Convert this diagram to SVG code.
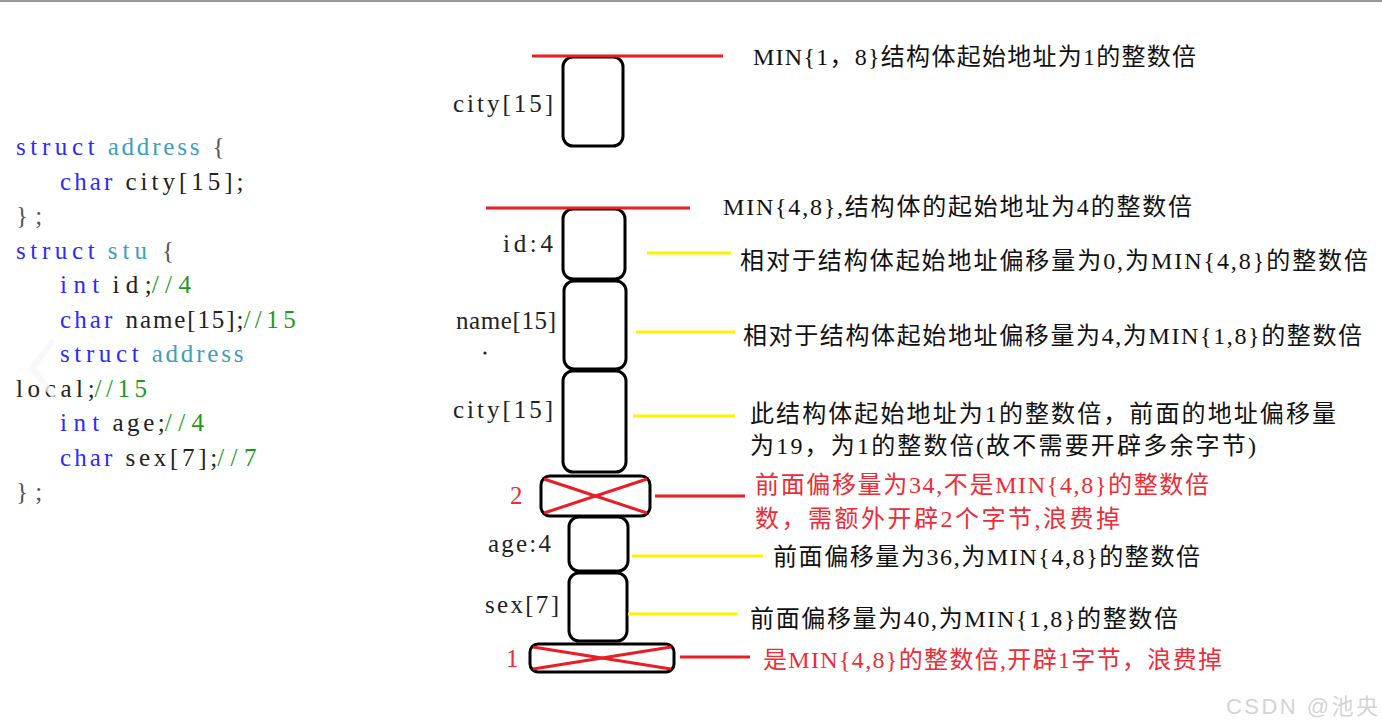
<svg xmlns="http://www.w3.org/2000/svg" width="1382" height="728" viewBox="0 0 1382 728">
<style>
.code{font-family:"Liberation Serif","Noto Sans CJK SC",serif;font-size:25px;}
.kw{fill:#2b2bff}
.ty{fill:#3d9ec0}
.id{fill:#222}
.cm{fill:#1e9a1e}
.br{fill:#555}
.box{fill:#fff;stroke:#000;stroke-width:3}
.lbl{font-family:"Liberation Serif",serif;font-size:25px;fill:#222}
.rl{font-family:"Liberation Serif",serif;font-size:25px;fill:#ee2b36}
.note{font-family:"Liberation Serif","Noto Sans CJK SC",serif;font-size:24px;fill:#111}
.rnote{font-family:"Liberation Serif","Noto Sans CJK SC",serif;font-size:24px;fill:#ee2b36}
.red{stroke:#ec1c24;stroke-width:3}
.yel{stroke:#fff200;stroke-width:3}
.x{stroke:#ec1c24;stroke-width:3}
</style>
<rect x="0" y="0" width="1382" height="728" fill="#fff"/>
<line x1="0" y1="1" x2="1382" y2="1" stroke="#999" stroke-width="2"/>

<g id="code" class="code">
<text x="16" y="155" class="kw" textLength="78.6" lengthAdjust="spacing">struct</text>
<text x="107.7" y="155" class="ty" textLength="91.7" lengthAdjust="spacing">address</text>
<text x="212.5" y="155" class="br">{</text>
<text x="60" y="189.5" class="kw" textLength="52.4" lengthAdjust="spacing">char</text>
<text x="125.5" y="189.5" class="id" textLength="117.9" lengthAdjust="spacing">city[15];</text>
<text x="16" y="224" class="br" textLength="26.2" lengthAdjust="spacing">};</text>
<text x="16" y="258.5" class="kw" textLength="78.6" lengthAdjust="spacing">struct</text>
<text x="107.7" y="258.5" class="ty" textLength="39.3" lengthAdjust="spacing">stu</text>
<text x="162" y="258.5" class="br">{</text>
<text x="60" y="293" class="kw" textLength="39.3" lengthAdjust="spacing">int</text>
<text x="112.4" y="293" class="id" textLength="39.3" lengthAdjust="spacing">id;</text>
<text x="151.7" y="293" class="cm" textLength="39.3" lengthAdjust="spacing">//4</text>
<text x="60" y="327.5" class="kw" textLength="52.4" lengthAdjust="spacing">char</text>
<text x="125.5" y="327.5" class="id" textLength="117.9" lengthAdjust="spacing">name[15];</text>
<text x="243.4" y="327.5" class="cm" textLength="52.4" lengthAdjust="spacing">//15</text>
<text x="60" y="362" class="kw" textLength="78.6" lengthAdjust="spacing">struct</text>
<text x="151.7" y="362" class="ty" textLength="91.7" lengthAdjust="spacing">address</text>
<text x="16" y="396.5" class="id" textLength="78.6" lengthAdjust="spacing">local;</text>
<text x="94.6" y="396.5" class="cm" textLength="52.4" lengthAdjust="spacing">//15</text>
<text x="60" y="431" class="kw" textLength="39.3" lengthAdjust="spacing">int</text>
<text x="112.4" y="431" class="id" textLength="52.4" lengthAdjust="spacing">age;</text>
<text x="164.8" y="431" class="cm" textLength="39.3" lengthAdjust="spacing">//4</text>
<text x="60" y="465.5" class="kw" textLength="52.4" lengthAdjust="spacing">char</text>
<text x="125.5" y="465.5" class="id" textLength="91.7" lengthAdjust="spacing">sex[7];</text>
<text x="217.2" y="465.5" class="cm" textLength="39.3" lengthAdjust="spacing">//7</text>
<text x="16" y="500" class="br" textLength="26.2" lengthAdjust="spacing">};</text>
</g>

<polyline points="52,342 32,368 52,394" fill="none" stroke="#f6f6f6" stroke-opacity="0.8" stroke-width="6" stroke-linecap="round" stroke-linejoin="round"/>

<g id="node-address-city">
<rect class="box" x="563" y="57" width="60" height="89" rx="10"/>
<text class="lbl" x="453" y="112" textLength="100" lengthAdjust="spacing">city[15]</text>
</g>
<g id="node-id">
<rect class="box" x="563" y="209" width="62" height="70" rx="10"/>
<text class="lbl" x="503" y="252" textLength="50" lengthAdjust="spacing">id:4</text>
</g>
<g id="node-name">
<rect class="box" x="564" y="281" width="62" height="88" rx="10"/>
<text class="lbl" x="456" y="329" textLength="100" lengthAdjust="spacing">name[15]</text>
<circle cx="485" cy="353" r="1.6" fill="#222"/>
</g>
<g id="node-city">
<rect class="box" x="563" y="371" width="63" height="101" rx="10"/>
<text class="lbl" x="453" y="418" textLength="100" lengthAdjust="spacing">city[15]</text>
</g>
<g id="node-pad2">
<rect class="box" x="541" y="476" width="109" height="40" rx="9"/>
<line class="x" x1="544" y1="479" x2="647" y2="513"/>
<line class="x" x1="544" y1="513" x2="647" y2="479"/>
<text class="rl" x="510" y="504">2</text>
</g>
<g id="node-age">
<rect class="box" x="569" y="517" width="59" height="54" rx="10"/>
<text class="lbl" x="488" y="552" textLength="63" lengthAdjust="spacing">age:4</text>
</g>
<g id="node-sex">
<rect class="box" x="569" y="573" width="58" height="68" rx="10"/>
<text class="lbl" x="485" y="613" textLength="74" lengthAdjust="spacing">sex[7]</text>
</g>
<g id="node-pad1">
<rect class="box" x="530" y="644" width="144" height="28" rx="8"/>
<line class="x" x1="533" y1="647" x2="671" y2="669"/>
<line class="x" x1="533" y1="669" x2="671" y2="647"/>
<text class="rl" x="506" y="667">1</text>
</g>

<g id="connectors">
<line class="red" x1="532" y1="56" x2="723" y2="56"/>
<line class="red" x1="486" y1="208" x2="690" y2="208"/>
<line class="yel" x1="647" y1="253" x2="731" y2="253"/>
<line class="yel" x1="636" y1="332" x2="735" y2="332"/>
<line class="yel" x1="633" y1="416" x2="735" y2="416"/>
<line class="red" x1="655" y1="496" x2="745" y2="496"/>
<line class="yel" x1="632" y1="556" x2="763" y2="556"/>
<line class="yel" x1="628" y1="614" x2="737" y2="614"/>
<line class="red" x1="680" y1="657" x2="750" y2="657"/>
</g>

<g id="notes">
<text class="note" x="753" y="65" textLength="443" lengthAdjust="spacing">MIN{1，8}结构体起始地址为1的整数倍</text>
<text class="note" x="723" y="215" textLength="469" lengthAdjust="spacing">MIN{4,8},结构体的起始地址为4的整数倍</text>
<text class="note" x="740" y="269" textLength="628" lengthAdjust="spacing">相对于结构体起始地址偏移量为0,为MIN{4,8}的整数倍</text>
<text class="note" x="743" y="344" textLength="619" lengthAdjust="spacing">相对于结构体起始地址偏移量为4,为MIN{1,8}的整数倍</text>
<text class="note" x="750" y="422" textLength="586" lengthAdjust="spacing">此结构体起始地址为1的整数倍，前面的地址偏移量</text>
<text class="note" x="750" y="454" textLength="506" lengthAdjust="spacing">为19，为1的整数倍(故不需要开辟多余字节)</text>
<text class="rnote" x="755" y="493" textLength="454" lengthAdjust="spacing">前面偏移量为34,不是MIN{4,8}的整数倍</text>
<text class="rnote" x="755" y="527" textLength="365" lengthAdjust="spacing">数，需额外开辟2个字节,浪费掉</text>
<text class="note" x="773" y="565" textLength="427" lengthAdjust="spacing">前面偏移量为36,为MIN{4,8}的整数倍</text>
<text class="note" x="750" y="627" textLength="428" lengthAdjust="spacing">前面偏移量为40,为MIN{1,8}的整数倍</text>
<text class="rnote" x="763" y="668" textLength="459" lengthAdjust="spacing">是MIN{4,8}的整数倍,开辟1字节，浪费掉</text>
</g>

<text x="1226" y="714" font-family="'Liberation Sans','Noto Sans CJK SC',sans-serif" font-size="22" fill="#d4d4d4" textLength="152" lengthAdjust="spacing">CSDN @池央</text>
</svg>
